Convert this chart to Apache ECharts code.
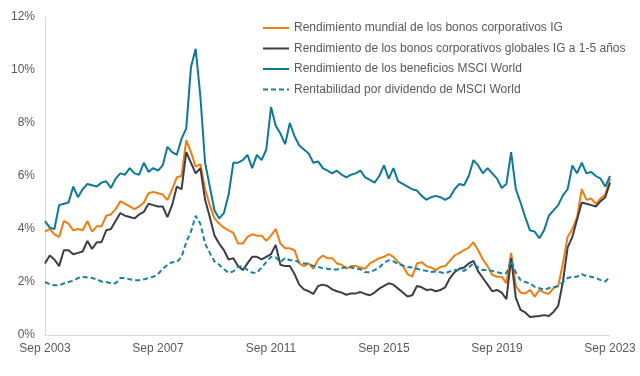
<!DOCTYPE html>
<html>
<head>
<meta charset="utf-8">
<script src="https://cdn.jsdelivr.net/npm/echarts@6/dist/echarts.min.js"></script>
<style>
  html, body { margin: 0; padding: 0; background: #fff; }
  #chart { width: 640px; height: 376px; }
</style>
</head>
<body>
<div id="chart"></div>
<script>
// bimonthly points, Sep 2003 .. Sep 2023
const monthNames = ["Ene", "Feb", "Mar", "Abr", "May", "Jun", "Jul", "Ago", "Sep", "Oct", "Nov", "Dic"];
const categories = [];
for (let k = 0; k <= 120; k++) {
  const m = 8 + k * 2;
  categories.push(monthNames[m % 12] + " " + (2003 + Math.floor(m / 12)));
}

const seriesNames = [
  "Rendimiento mundial de los bonos corporativos IG",
  "Rendimiento de los bonos corporativos globales IG a 1-5 años",
  "Rendimiento de los beneficios MSCI World",
  "Rentabilidad por dividendo de MSCI World"
];

const igYield = [
  3.9, 4.0, 3.8, 3.7, 4.3, 4.2, 3.95, 4.0, 3.95, 4.3, 3.9, 4.1, 4.1, 4.5, 4.55, 4.75, 5.05, 4.95, 4.85, 4.75,
  4.85, 5.0, 5.35, 5.4, 5.35, 5.3, 5.1, 5.5, 5.95, 6.0, 7.35, 6.9, 6.35, 6.45, 5.5, 4.9, 4.4, 4.2, 4.05, 3.95,
  3.85, 3.45, 3.45, 3.7, 3.8, 3.75, 3.75, 3.55, 3.75, 4.0, 3.45, 3.27, 3.27, 3.2, 2.7, 2.6, 2.7, 2.5, 2.85, 3.0,
  2.9, 2.9, 2.7, 2.65, 2.5, 2.6, 2.6, 2.55, 2.5, 2.7, 2.8, 2.9, 2.95, 3.05, 2.95, 2.75, 2.6, 2.3, 2.2, 2.7,
  2.75, 2.6, 2.55, 2.45, 2.57, 2.6, 2.8, 3.0, 3.1, 3.2, 3.3, 3.5, 3.2, 2.85, 2.6, 2.27, 2.2, 2.2, 1.95, 3.1,
  1.85, 1.6, 1.57, 1.7, 1.45, 1.7, 1.6, 1.55, 1.77, 1.85, 2.7, 3.7, 4.0, 4.45, 5.5, 5.1, 5.15, 4.95, 5.15, 5.3,
  5.9
];

const ig15Yield = [
  2.7, 3.0, 2.85, 2.6, 3.2, 3.2, 3.05, 3.1, 3.15, 3.55, 3.25, 3.5, 3.5, 3.95, 4.0, 4.3, 4.6, 4.5, 4.45, 4.4,
  4.55, 4.65, 4.95, 4.9, 4.85, 4.85, 4.45, 4.9, 5.6, 5.5, 6.9, 6.5, 6.1, 6.3, 5.1, 4.45, 3.75, 3.45, 3.2, 2.85,
  2.9, 2.6, 2.45, 2.7, 2.95, 2.95, 2.85, 2.95, 3.05, 3.4, 2.65, 2.6, 2.6, 2.3, 1.9, 1.72, 1.65, 1.55, 1.85, 1.9,
  1.85, 1.72, 1.65, 1.6, 1.52, 1.57, 1.57, 1.62, 1.55, 1.5, 1.6, 1.75, 1.85, 1.95, 1.9, 1.75, 1.6, 1.45, 1.5, 1.85,
  1.8, 1.7, 1.72, 1.65, 1.7, 1.8, 2.15, 2.37, 2.5, 2.55, 2.7, 2.8, 2.4, 2.15, 1.9, 1.65, 1.7, 1.6, 1.35, 2.9,
  1.4, 0.95, 0.85, 0.68, 0.7, 0.72, 0.75, 0.72, 0.87, 1.1, 2.0, 3.3, 3.7, 4.35, 5.0, 4.95, 4.9, 4.85, 5.05, 5.2,
  5.75
];

const earningsYield = [
  4.3, 4.05, 4.0, 4.9, 4.95, 5.0, 5.6, 5.2, 5.5, 5.7, 5.65, 5.6, 5.75, 5.8, 5.55, 5.9, 6.1, 6.05, 6.3, 6.1,
  6.05, 6.5, 6.15, 6.3, 6.2, 6.4, 7.1, 6.9, 6.8, 7.4, 7.8, 10.1, 10.8, 9.0, 6.5, 5.6, 4.7, 4.4, 4.6, 5.3,
  6.5, 6.5, 6.6, 6.8, 6.3, 6.8, 6.6, 7.0, 8.6, 7.9, 7.6, 7.2, 8.0, 7.5, 7.15, 7.0, 6.85, 6.5, 6.55, 6.3,
  6.2, 6.1, 6.2, 6.05, 5.95, 6.05, 6.1, 6.2, 5.95, 5.85, 5.75, 6.0, 6.4, 5.9, 6.3, 5.8, 5.7, 5.6, 5.5, 5.45,
  5.25, 5.1, 5.2, 5.25, 5.2, 5.1, 5.2, 5.5, 5.7, 5.65, 6.0, 6.6, 6.4, 6.1, 6.3, 6.1, 5.9, 5.55, 5.7, 6.9,
  5.5, 5.0, 4.45, 3.95, 3.9, 3.65, 3.95, 4.5, 4.7, 4.9, 5.27, 5.5, 6.4, 6.1, 6.5, 6.1, 6.15, 6.0, 5.9, 5.6,
  6.0
];

const dividendYield = [
  2.0, 1.92, 1.88, 1.87, 1.95, 2.0, 2.05, 2.15, 2.2, 2.17, 2.15, 2.1, 2.02, 2.0, 1.95, 1.95, 2.15, 2.15, 2.1, 2.07,
  2.07, 2.1, 2.15, 2.2, 2.3, 2.5, 2.65, 2.75, 2.75, 2.95, 3.5, 3.9, 4.5, 4.2, 3.45, 3.1, 2.77, 2.65, 2.48, 2.35,
  2.4, 2.57, 2.6, 2.45, 2.35, 2.35, 2.55, 2.75, 2.95, 2.93, 2.75, 2.9, 2.82, 2.82, 2.75, 2.7, 2.7, 2.6, 2.57, 2.52,
  2.5, 2.47, 2.47, 2.52, 2.57, 2.55, 2.5, 2.48, 2.37, 2.37, 2.45, 2.55, 2.72, 2.82, 2.78, 2.68, 2.62, 2.57, 2.55, 2.5,
  2.45, 2.42, 2.38, 2.4, 2.37, 2.33, 2.4, 2.45, 2.45, 2.42, 2.55, 2.7, 2.55, 2.45, 2.45, 2.42, 2.37, 2.33, 2.33, 2.8,
  2.35, 2.07, 2.0, 1.95, 1.82, 1.77, 1.7, 1.77, 1.8, 1.85, 2.0, 2.15, 2.2, 2.2, 2.3, 2.22, 2.2, 2.15, 2.07, 2.02,
  2.2
];

const yTicks = [0, 2, 4, 6, 8, 10, 12];

const chart = echarts.init(document.getElementById("chart"));

const lineSeries = (name, data, color, dashed) => ({
  name: name,
  type: "line",
  data: data,
  symbol: "none",
  smooth: false,
  lineStyle: {
    color: color,
    width: 2,
    type: dashed ? [5, 3] : "solid"
  },
  itemStyle: { color: color }
});

const option = {
  animation: false,
  textStyle: { fontFamily: "Arial, 'Liberation Sans', sans-serif" },
  grid: {
    left: 45,
    right: 30,
    top: 17,
    bottom: 41,
    containLabel: false
  },
  legend: {
    orient: "vertical",
    left: 257,
    top: 17,
    itemWidth: 26,
    itemHeight: 10,
    itemGap: 8.5,
    itemStyle: { opacity: 0 },
    textStyle: { color: "#595959", fontSize: 12 },
    data: seriesNames
  },
  xAxis: {
    type: "category",
    data: categories,
    boundaryGap: false,
    axisLine: { show: true, lineStyle: { color: "#d9d9d9", width: 1 } },
    axisTick: { show: false },
    axisLabel: {
      color: "#595959",
      fontSize: 12,
      margin: 8,
      interval: (i) => i % 24 === 0,
      showMinLabel: true,
      showMaxLabel: true
    },
    splitLine: { show: false }
  },
  yAxis: {
    type: "value",
    min: yTicks[0],
    max: yTicks[yTicks.length - 1],
    interval: 2,
    axisLine: { show: true, lineStyle: { color: "#d9d9d9", width: 1 } },
    axisTick: { show: false },
    axisLabel: { color: "#595959", fontSize: 12, margin: 10, formatter: "{value}%" },
    splitLine: { show: false }
  },
  series: [
    lineSeries(seriesNames[0], igYield, "#f07d14", false),
    lineSeries(seriesNames[1], ig15Yield, "#3d3d4a", false),
    lineSeries(seriesNames[2], earningsYield, "#0f7897", false),
    lineSeries(seriesNames[3], dividendYield, "#1a7fa0", true)
  ]
};

chart.setOption(option);
</script>
</body>
</html>
